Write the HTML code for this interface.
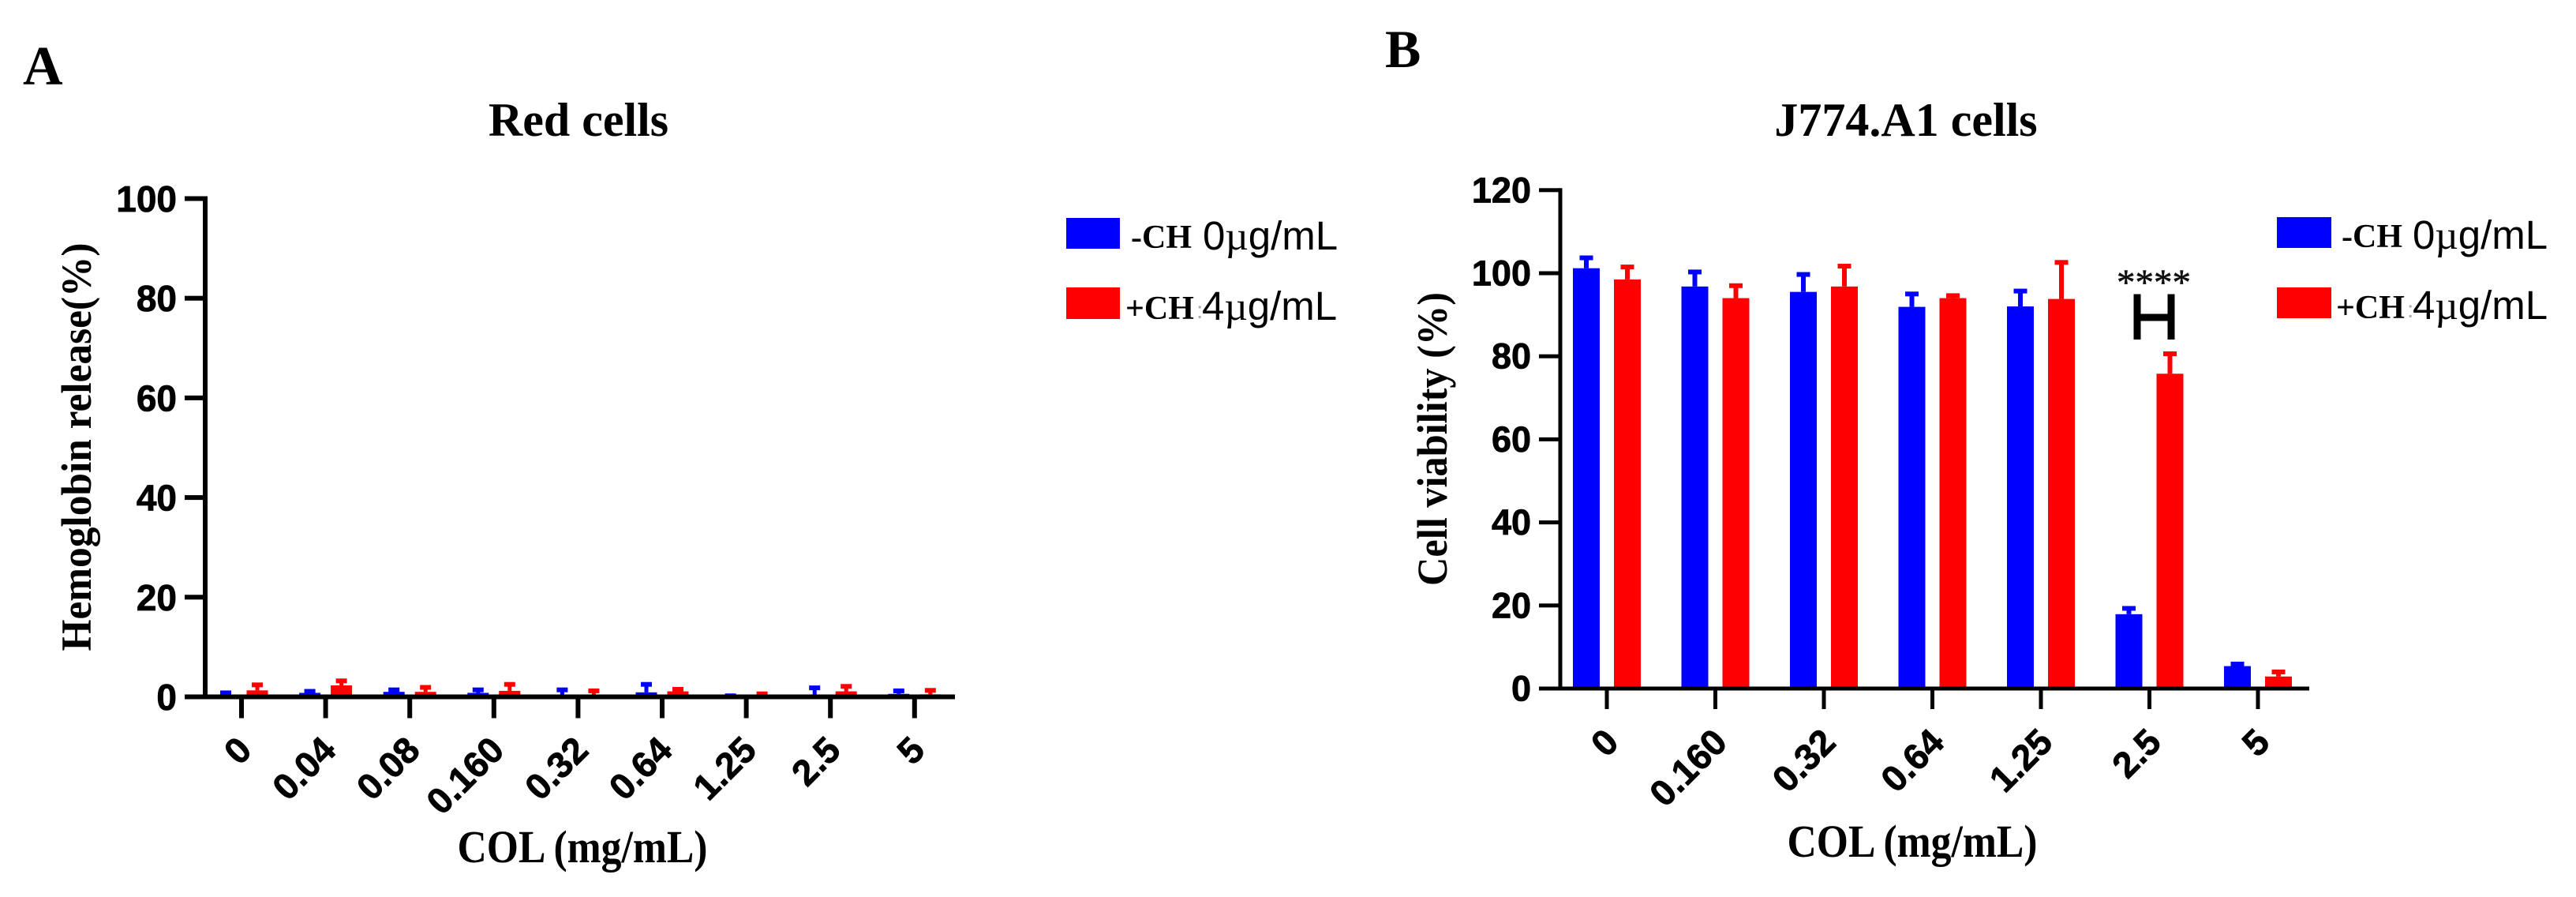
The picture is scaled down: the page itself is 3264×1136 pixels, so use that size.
<!DOCTYPE html>
<html lang="en">
<head>
<meta charset="utf-8">
<title>Red cells and J774.A1 cells</title>
<style>
html,body{margin:0;padding:0;background:#fff;width:3264px;height:1136px;overflow:hidden}
svg{display:block}
.serif{font-family:"Liberation Serif",serif;font-weight:bold;fill:#000}
.sans{font-family:"Liberation Sans",sans-serif;fill:#000}
.tick{font-family:"Liberation Sans",sans-serif;font-weight:bold;fill:#000;stroke:#000;stroke-width:0.8px}
</style>
</head>
<body>
<svg id="figure" xmlns="http://www.w3.org/2000/svg" width="3264" height="1136" viewBox="0 0 3264 1136">
  <rect width="3264" height="1136" fill="#fff"/>

  <text class="serif" x="29" y="107" font-size="70">A</text>
  <text class="serif" x="1755" y="85" font-size="68">B</text>

  <text class="serif" x="733" y="172" font-size="60" text-anchor="middle">Red cells</text>
  <text class="serif" x="2415" y="172" font-size="60" text-anchor="middle">J774.A1 cells</text>

  <text class="serif" font-size="54" text-anchor="middle" textLength="517" lengthAdjust="spacingAndGlyphs" transform="translate(115 566) rotate(-90)">Hemoglobin release(%)</text>
  <text class="serif" font-size="54" text-anchor="middle" textLength="372" lengthAdjust="spacingAndGlyphs" transform="translate(1833 556) rotate(-90)">Cell viability (%)</text>

  <text class="serif" x="738" y="1092" font-size="58" text-anchor="middle" textLength="317" lengthAdjust="spacingAndGlyphs">COL (mg/mL)</text>
  <text class="serif" x="2423" y="1085" font-size="58" text-anchor="middle" textLength="317" lengthAdjust="spacingAndGlyphs">COL (mg/mL)</text>

  <g id="chart-a"></g>
  <g id="chart-b"></g>

  <g>
    <g>
      <rect x="1351" y="276" width="68" height="39" fill="#0000ff"/>
      <text class="serif" x="1433" y="314" font-size="42">-CH</text>
      <text class="sans" x="1524" y="316" font-size="51">0<tspan font-family="Liberation Serif">µ</tspan>g/mL</text>
    </g>
    <g>
      <rect x="1351" y="364" width="68" height="40" fill="#ff0000"/>
      <text class="serif" x="1426" y="404" font-size="42">+CH</text>
      <text class="sans" x="1516" y="403" font-size="30" style="fill:#aaa">:</text>
      <text class="sans" x="1523" y="405" font-size="51">4<tspan font-family="Liberation Serif">µ</tspan>g/mL</text>
    </g>
  </g>

  <g>
    <g>
      <rect x="2885" y="275" width="69" height="39" fill="#0000ff"/>
      <text class="serif" x="2967" y="313" font-size="42">-CH</text>
      <text class="sans" x="3057" y="315" font-size="51">0<tspan font-family="Liberation Serif">µ</tspan>g/mL</text>
    </g>
    <g>
      <rect x="2885" y="364" width="69" height="39" fill="#ff0000"/>
      <text class="serif" x="2960" y="403" font-size="42">+CH</text>
      <text class="sans" x="3050" y="402" font-size="30" style="fill:#aaa">:</text>
      <text class="sans" x="3057" y="404" font-size="51">4<tspan font-family="Liberation Serif">µ</tspan>g/mL</text>
    </g>
  </g>

  <g>
    <text x="2729" y="373" font-family="Liberation Serif, serif" font-size="47" text-anchor="middle" fill="#111" stroke="#111" stroke-width="0.6">****</text>
    <path d="M2708 372.5V430M2751 372.5V430M2708 402H2751" fill="none" stroke="#000" stroke-width="9"/>
  </g>
</svg>

<script>
const categoriesA = ['0','0.04','0.08','0.160','0.32','0.64','1.25','2.5','5'];
const blueValuesA = [0.3,0.8,1.0,0.8,0.2,0.9,0,0.1,0.6];
const blueErrorsA = [0.5,0.3,0.4,0.6,1.2,1.6,0.2,1.7,0.6];
const redValuesA  = [1.3,2.3,1.0,1.2,0.1,1.1,0.1,1.1,0.5];
const redErrorsA  = [1.1,0.9,0.9,1.3,1.1,0.4,0.5,1.0,0.8];
const yTicksA     = [0,20,40,60,80,100];

const categoriesB = ['0','0.160','0.32','0.64','1.25','2.5','5'];
const blueValuesB = [101.2,96.8,95.5,91.9,92,17.9,5.4];
const blueErrorsB = [2.5,3.5,4.2,3.1,3.7,1.4,0.5];
const redValuesB  = [98.5,94,96.8,94,93.8,75.8,2.9];
const redErrorsB  = [3,3,4.9,0.6,8.8,4.8,1.1];
const yTicksB     = [0,20,40,60,80,100,120];

const SVGNS = 'http://www.w3.org/2000/svg';

function makeRect(parent, x, y, w, h, fill) {
  const el = document.createElementNS(SVGNS, 'rect');
  el.setAttribute('x', x);
  el.setAttribute('y', y);
  el.setAttribute('width', w);
  el.setAttribute('height', Math.max(0, h));
  el.setAttribute('fill', fill);
  parent.appendChild(el);
  return el;
}

function makeText(parent, x, y, str, anchor, rotate, size) {
  const el = document.createElementNS(SVGNS, 'text');
  el.setAttribute('x', x);
  el.setAttribute('y', y);
  el.setAttribute('class', 'tick');
  el.setAttribute('font-size', size);
  el.setAttribute('text-anchor', anchor);
  if (rotate) el.setAttribute('transform', 'rotate(' + rotate + ' ' + x + ' ' + y + ')');
  el.textContent = str;
  parent.appendChild(el);
  return el;
}

function drawPanel(g, p) {
  const xPos = i => p.x0 + i * p.step;
  const yPos = v => p.y0 - (v - 0) * p.pxPerUnit;

  function drawSeries(values, errors, offset, color) {
    values.forEach((v, i) => {
      const cx = xPos(i) + offset;
      const top = yPos(v);
      const capY = yPos(v + errors[i]);
      const bar = makeRect(g, cx - p.barW / 2, top, p.barW, p.y0 - top, color);
      
      
      const stem = makeRect(g, cx - p.stemW / 2, capY, p.stemW, top - capY, color);
      
      
      const cap = makeRect(g, cx - p.capW / 2, capY - p.capH / 2, p.capW, p.capH, color);
      
      
    });
  }
  drawSeries(p.blue, p.blueErr, -p.offset, '#0000ff');
  drawSeries(p.red, p.redErr, p.offset, '#ff0000');

  const yAxis = makeRect(g, p.axisX - p.axisW / 2, yPos(p.yTicks[p.yTicks.length - 1]) - p.axisW / 2, p.axisW, p.y0 - yPos(p.yTicks[p.yTicks.length - 1]) + p.axisW / 2, '#000');
  
  

  const xAxis = makeRect(g, p.axisLeft, p.y0 - p.axisW / 2, p.axisRight - p.axisLeft, p.axisW, '#000');
  
  

  p.yTicks.forEach(t => {
    const mark = makeRect(g, p.axisLeft, yPos(t) - p.axisW / 2, p.axisX - p.axisLeft, p.axisW, '#000');
    
    
    const label = makeText(g, p.yLabelRight, yPos(t) + p.yLabelDy, String(t), 'end', 0, p.yFont);
    
    
  });

  p.categories.forEach((c, i) => {
    const mark = makeRect(g, xPos(i) - p.axisW / 2, p.y0, p.axisW, p.tickLen, '#000');
    
    
    const label = makeText(g, xPos(i) + p.xLabelDx, p.xLabelY, c, 'end', -45, p.xFont);
    
    
  });
}

drawPanel(document.getElementById('chart-a'), {
  categories: categoriesA, blue: blueValuesA, blueErr: blueErrorsA, red: redValuesA, redErr: redErrorsA, yTicks: yTicksA,
  x0: 306, step: 106.6, y0: 882.5, pxPerUnit: 6.31, barW: 27, offset: 20, stemW: 5, capW: 14, capH: 6,
  axisX: 260, axisLeft: 234, axisRight: 1210, axisW: 6, tickLen: 27, yLabelRight: 224, yLabelDy: 16.5, yFont: 46, xFont: 46, xLabelDx: 15.4, xLabelY: 952.6
});

drawPanel(document.getElementById('chart-b'), {
  categories: categoriesB, blue: blueValuesB, blueErr: blueErrorsB, red: redValuesB, redErr: redErrorsB, yTicks: yTicksB,
  x0: 2036, step: 137.5, y0: 872, pxPerUnit: 5.26, barW: 34, offset: 26, stemW: 6, capW: 17, capH: 6,
  axisX: 1977, axisLeft: 1950, axisRight: 2926, axisW: 5, tickLen: 26, yLabelRight: 1940, yLabelDy: 15.5, yFont: 45, xFont: 46, xLabelDx: 17.4, xLabelY: 942.6
});
</script>
</body>
</html>
